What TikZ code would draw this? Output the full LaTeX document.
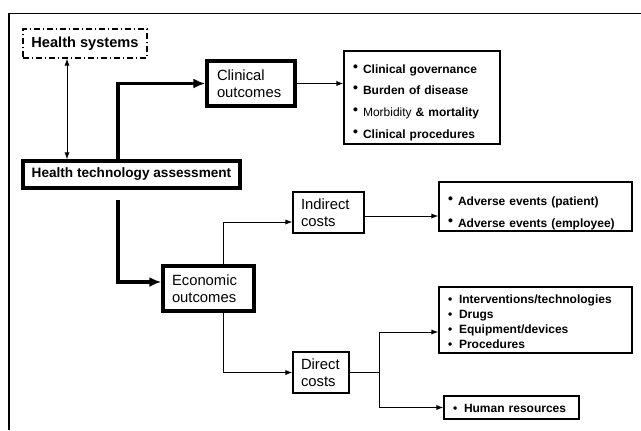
\documentclass[tikz,border=0pt]{standalone}
\usepackage{fontspec}
\setmainfont{Liberation Sans}
\usetikzlibrary{arrows.meta}
\newcommand\blt{\makebox[5pt][l]{\raisebox{.3ex}{\scriptsize\textbullet}}}
\newcommand\bltc{\makebox[5.5pt][l]{\textbullet}}
\newcommand\lift[1]{\rule{0pt}{#1}}
\tikzset{
  box/.style={draw, line width=.6pt, inner ysep=0pt, align=left, font=\fontsize{7.4}{8.3}\selectfont},
  bigbox/.style={box, line width=1.7pt},
  listfont/.style={font=\fontsize{6}{#1}\selectfont\bfseries},
  mainlink/.style={line width=1.6pt, -{Latex[length=6pt,width=5pt]}}
}
\begin{document}
\begin{tikzpicture}[x=.5pt, y=-.5pt, >={Latex[length=3.5pt,width=2.6pt]}, line width=.5pt]
  \useasboundingbox (0,0) rectangle (641,430);
  \draw [line width=.7pt] (9,430)--(9,13.5)--(641,13.5);
  % left part
  \node [box, dash pattern=on 3pt off 1.5pt on .5pt off 1.5pt, minimum width=62pt, minimum height=14.5pt, align=center, font=\fontsize{7.3}{8}\selectfont\bfseries] (hs) at (85,43.5) {Health systems};
  \node [bigbox, minimum width=108.5pt, minimum height=13.5pt, align=center, font=\fontsize{6.8}{8}\selectfont\bfseries] (hta) at (131.5,174.5) {Health technology assessment};
  \node [bigbox, text width=34pt, inner xsep=5pt, minimum height=22.5pt] (clin) at (251,83.5) {Clinical\\outcomes};
  \node [bigbox, text width=36.5pt, inner xsep=4.5pt, minimum height=22.5pt] (eco) at (208.5,288.5) {Economic\\outcomes};
  \node [box, text width=27.5pt, inner xsep=4pt, minimum height=20.5pt] (ind) at (328.5,212.5) {Indirect\\costs};
  \node [box, text width=20pt, inner xsep=4pt, minimum height=20.5pt] (dir) at (321,372.5) {Direct\\costs};
  % lists
  \node [box, listfont=10.85, text width=69pt, inner xsep=4.5pt, minimum height=46.5pt] (clinlist) at (422,97.5)
    {\lift{9.4pt}\blt Clinical governance\\ \blt Burden of disease\\ \blt {\mdseries Morbidity} \& mortality\\ \blt Clinical procedures};
  \node [box, listfont=11, text width=87.5pt, inner xsep=4.5pt, minimum height=24.5pt] (adv) at (535.5,206.5)
    {\lift{10.9pt}\blt Adverse events (patient)\\ \blt Adverse events (employee)};
  \node [box, listfont=7.5, text width=87.5pt, inner xsep=4.5pt, minimum height=33pt] (interv) at (535.5,320)
    {\lift{6.4pt}\bltc Interventions/technologies\\ \bltc Drugs\\ \bltc Equipment/devices\\ \bltc Procedures};
  \node [box, listfont=7.5, text width=58.5pt, inner xsep=4.5pt, minimum height=11.5pt] (hr) at (511.5,407.5)
    {\lift{5.4pt}\bltc Human resources};
  % links
  \draw [<->] (hs.south -| 67,0)--(hta.north -| 67,0);
  \draw [mainlink] (hta.north -| 118,0) |- (clin.west);
  \coordinate (htaout) at (118,200);
  \draw [mainlink] (htaout) |- ([yshift=3.25pt]eco.west);
  \draw [->] (clin.east)--(clin.east -| clinlist.west);
  \draw [->] (eco.north -| 223,0) |- ([yshift=-4.75pt]ind.west);
  \coordinate (indout) at ([yshift=-1.75pt]ind.east);
  \draw [->] (indout)--(indout -| adv.west);
  \draw [->] (eco.south -| 223,0) |- (dir.west);
  \coordinate (split) at (dir.east -| 379,0);
  \draw (dir.east)--(split);
  \draw [->] (split) |- ([yshift=-6pt]interv.west);
  \draw [->] (split) |- (hr.west);
\end{tikzpicture}
\end{document}
